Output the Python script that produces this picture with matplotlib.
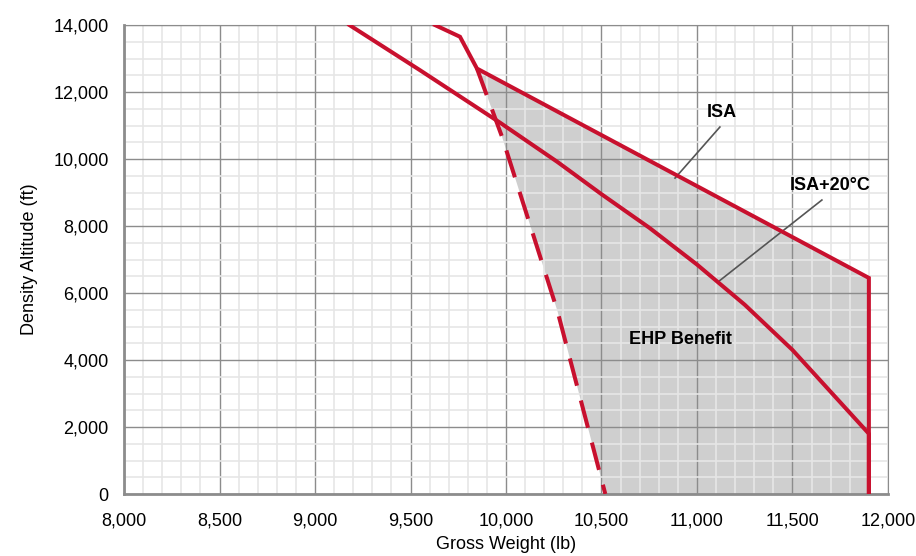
import numpy as np
import matplotlib.pyplot as plt
from matplotlib.ticker import MultipleLocator, FuncFormatter

plt.rcParams['font.family'] = ['Liberation Sans', 'DejaVu Sans']

# ISA curve (lb, ft)
isa_w = [9628, 9759, 9848, 11900, 11900]
isa_alt = [14000, 13650, 12700, 6450, 0]

# ISA+20C curve
isa20_w = [9180, 9550, 9970, 10270, 10500, 10750, 11000, 11250, 11500, 11700, 11900, 11900]
isa20_alt = [14000, 12650, 11080, 9910, 8950, 7950, 6850, 5650, 4300, 3050, 1800, 0]

# dashed boundary of the EHP benefit region
ehp_w = [9848, 9980, 10270, 10520]
ehp_alt = [12700, 10650, 5450, 0]

red = '#C8102E'

fig = plt.figure(figsize=(9.16, 5.56), dpi=100)
ax = fig.add_axes([0.1354, 0.1115, 0.8340, 0.8435])

# shaded benefit region: along ISA line, down the right edge, back up the dashed line
poly_w = [9848, 11900, 11900] + ehp_w[::-1]
poly_alt = [12700, 6450, 0] + ehp_alt[::-1]
ax.fill(poly_w, poly_alt, facecolor='#CFCFCF', edgecolor='none', zorder=1)

ax.plot(isa_w, isa_alt, color=red, lw=2.9, solid_joinstyle='miter', zorder=3)
ax.plot(isa20_w, isa20_alt, color=red, lw=2.9, zorder=3)
ax.plot(ehp_w, ehp_alt, color=red, lw=2.9, linestyle=(0, (7, 3.8)), zorder=3)

ax.set_xlim(8000, 12000)
ax.set_ylim(0, 14000)
ax.xaxis.set_major_locator(MultipleLocator(500))
ax.xaxis.set_minor_locator(MultipleLocator(100))
ax.yaxis.set_major_locator(MultipleLocator(2000))
ax.yaxis.set_minor_locator(MultipleLocator(500))
fmt = FuncFormatter(lambda v, p: f'{int(v):,}')
ax.xaxis.set_major_formatter(fmt)
ax.yaxis.set_major_formatter(fmt)

ax.grid(which='minor', color='#E6E6E6', lw=1.2, zorder=1.5)
ax.grid(which='major', color='#8C8C8C', lw=1.0, zorder=1.6)
ax.tick_params(which='both', length=0)
ax.tick_params(axis='x', pad=13, labelsize=13)
ax.tick_params(axis='y', pad=11, labelsize=13)

for s in ['top', 'right']:
    ax.spines[s].set_color('#8C8C8C')
    ax.spines[s].set_linewidth(0.8)
for s in ['left', 'bottom']:
    ax.spines[s].set_color('#8C8C8C')
    ax.spines[s].set_linewidth(2.0)

ax.set_xlabel('Gross Weight (lb)', fontsize=13, labelpad=5)
ax.set_ylabel('Density Altitude (ft)', fontsize=13, labelpad=11)

# labels with leader lines
ax.plot([11120, 10885], [10955, 9430], color='#555555', lw=1.2, zorder=2.5)
ax.plot([11654, 11110], [8776, 6330], color='#555555', lw=1.2, zorder=2.5)
ax.text(11131, 11400, 'ISA', fontsize=13, fontweight='bold', ha='center', va='center')
ax.text(11696, 9220, 'ISA+20°C', fontsize=13, fontweight='bold', ha='center', va='center')
ax.text(10911, 4600, 'EHP Benefit', fontsize=13, fontweight='bold', ha='center', va='center')

fig.savefig('out.png', dpi=100)
